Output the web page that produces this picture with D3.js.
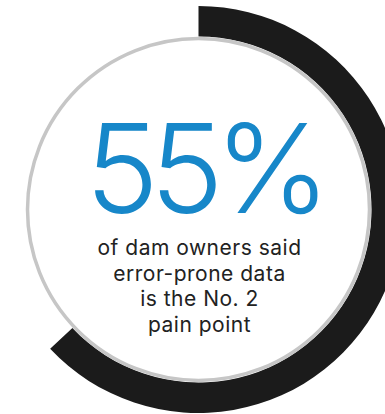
<!DOCTYPE html>
<html>
<head>
<meta charset="utf-8">
<script src="https://cdn.jsdelivr.net/npm/d3@7"></script>
<style>
  body { margin: 0; background: #fff; }
  svg { display: block; }
</style>
</head>
<body>
<div id="root"></div>
<script>
const width = 385;
const height = 414;

// values
const headline = [55];          // big number in the middle
const arcShare = [63];          // how far the black ring runs, in percent
const captionLines = ['of dam owners said', 'error-prone data', 'is the No. 2', 'pain point'];

const cx = 198.5, cy = 209.5;

const svg = d3.select('#root')
  .append('svg')
  .attr('width', width).attr('height', height);

const angle = d3.scaleLinear().domain([0, 100]).range([0, 2 * Math.PI]);

const g = svg.append('g').attr('transform', `translate(${cx}, ${cy})`);

// black progress ring
const ring = d3.arc().innerRadius(173).outerRadius(203.5).startAngle(0);
g.selectAll('.ring')
  .data(arcShare).enter()
  .append('path')
  .attr('class', 'ring')
  .attr('d', d => ring({endAngle: angle(d)}))
  .attr('fill', '#1b1b1b');

// thin grey circle
g.append('circle')
  .attr('r', 171)
  .attr('fill', '#fff')
  .attr('stroke', '#c6c6c6')
  .attr('stroke-width', 3.5);

g.selectAll('.big')
  .data(headline).enter()
  .append('text')
  .attr('class', 'big')
  .attr('x', 5)
  .attr('y', 213 - cy)
  .attr('text-anchor', 'middle')
  .attr('font-family', 'Inter, sans-serif')
  .attr('font-weight', 300)
  .attr('font-size', 124)
  .attr('letter-spacing', -9)
  .attr('fill', '#1787c9')
  .text(d => d + '%');

g.selectAll('.cap')
  .data(captionLines).enter()
  .append('text')
  .attr('class', 'cap')
  .attr('x', 1)
  .attr('y', (d, i) => 255 - cy + i * 25.5)
  .attr('text-anchor', 'middle')
  .attr('font-family', 'Inter, sans-serif')
  .attr('font-size', 21)
  .attr('letter-spacing', 0.5)
  .attr('fill', '#222')
  .text(d => d);
</script>
</body>
</html>
